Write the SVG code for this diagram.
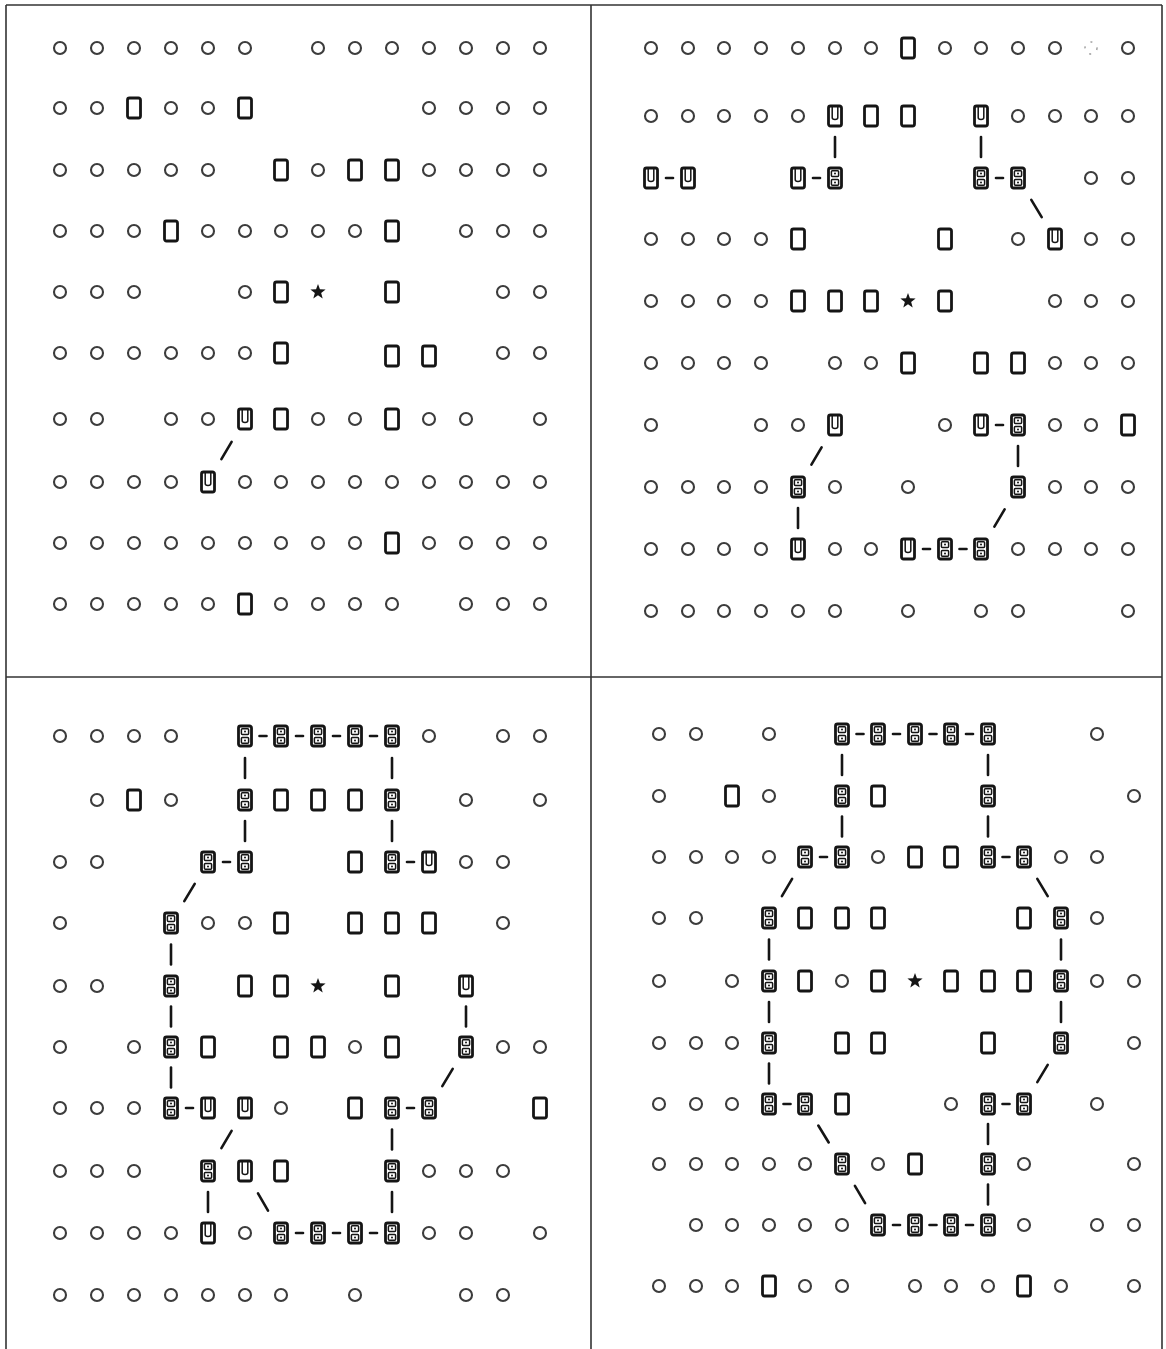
<svg xmlns="http://www.w3.org/2000/svg" xmlns:xlink="http://www.w3.org/1999/xlink" width="1166" height="1349" viewBox="0 0 1166 1349">
<style>
.o{fill:none;stroke:#3c3c3c;stroke-width:2.1}
.fa{fill:none;stroke:#9a9a9a;stroke-width:1.4;stroke-dasharray:2 7}
.k{fill:#fff;stroke:#151515;stroke-width:2.8}
.i{fill:none;stroke:#151515;stroke-width:1.5}
.f{fill:#151515}
.e line{stroke:#151515;stroke-width:2.6;stroke-linecap:round}
.fr line{stroke:#333;stroke-width:1.6}
</style>
<defs>
<circle id="o" r="6" class="o"/>
<circle id="fo" r="6" class="fa"/>
<g id="r"><rect x="-6.5" y="-10" width="13" height="20" rx="2" class="k"/></g>
<g id="u"><rect x="-6.5" y="-10" width="13" height="20" rx="2" class="k"/><path d="M-2.8,-9V1.5Q-2.8,3.5 0,3.5Q2.8,3.5 2.8,1.5V-9" class="i"/></g>
<g id="b"><rect x="-6.5" y="-10" width="13" height="20" rx="2" class="k"/><rect x="-3.6" y="-7.2" width="7.2" height="5.6" rx="1" class="i"/><rect x="-3.6" y="1.6" width="7.2" height="5.6" rx="1" class="i"/><circle cx="0" cy="-4.4" r="1" class="f"/><circle cx="0" cy="4.4" r="1" class="f"/></g>
<polygon id="s" class="f" points="0,-8 1.94,-2.68 7.61,-2.47 3.15,1.03 4.7,6.47 0,3.3 -4.7,6.47 -3.15,1.03 -7.61,-2.47 -1.94,-2.68"/>
</defs>
<rect width="1166" height="1349" fill="#fff"/>
<g id="frame" class="fr">
<line x1="6" y1="5" x2="1162" y2="5"/>
<line x1="6" y1="5" x2="6" y2="1349"/>
<line x1="1162" y1="5" x2="1162" y2="1349"/>
<line x1="591" y1="5" x2="591" y2="1349"/>
<line x1="6" y1="677" x2="1162" y2="677"/>
</g>
<g id="connectors" class="e">
<line x1="231.6" y1="441.9" x2="221.4" y2="459.1"/>
<line x1="835" y1="137" x2="835" y2="157"/>
<line x1="981" y1="137" x2="981" y2="157"/>
<line x1="666" y1="178" x2="673" y2="178"/>
<line x1="813" y1="178" x2="820" y2="178"/>
<line x1="996" y1="178" x2="1003" y2="178"/>
<line x1="1031.3" y1="199.9" x2="1041.7" y2="217.1"/>
<line x1="821.6" y1="447.4" x2="811.4" y2="464.6"/>
<line x1="996" y1="425" x2="1003" y2="425"/>
<line x1="1018" y1="446" x2="1018" y2="466"/>
<line x1="798" y1="508" x2="798" y2="528"/>
<line x1="1004.6" y1="509.4" x2="994.4" y2="526.6"/>
<line x1="923" y1="549" x2="930" y2="549"/>
<line x1="959.5" y1="549" x2="966.5" y2="549"/>
<line x1="259.5" y1="736" x2="266.5" y2="736"/>
<line x1="296" y1="736" x2="303" y2="736"/>
<line x1="333" y1="736" x2="340" y2="736"/>
<line x1="370" y1="736" x2="377" y2="736"/>
<line x1="245" y1="758" x2="245" y2="778"/>
<line x1="392" y1="758" x2="392" y2="778"/>
<line x1="245" y1="821" x2="245" y2="841"/>
<line x1="392" y1="821" x2="392" y2="841"/>
<line x1="223" y1="862" x2="230" y2="862"/>
<line x1="407" y1="862" x2="414" y2="862"/>
<line x1="194.7" y1="883.9" x2="184.3" y2="901.1"/>
<line x1="171" y1="944.5" x2="171" y2="964.5"/>
<line x1="171" y1="1006.5" x2="171" y2="1026.5"/>
<line x1="171" y1="1067.5" x2="171" y2="1087.5"/>
<line x1="466" y1="1006.5" x2="466" y2="1026.5"/>
<line x1="452.7" y1="1068.9" x2="442.3" y2="1086.1"/>
<line x1="186" y1="1108" x2="193" y2="1108"/>
<line x1="407" y1="1108" x2="414" y2="1108"/>
<line x1="231.6" y1="1130.9" x2="221.4" y2="1148.1"/>
<line x1="392" y1="1129.5" x2="392" y2="1149.5"/>
<line x1="208" y1="1192" x2="208" y2="1212"/>
<line x1="258" y1="1193.4" x2="268" y2="1210.6"/>
<line x1="392" y1="1192" x2="392" y2="1212"/>
<line x1="296" y1="1233" x2="303" y2="1233"/>
<line x1="333" y1="1233" x2="340" y2="1233"/>
<line x1="370" y1="1233" x2="377" y2="1233"/>
<line x1="856.5" y1="734" x2="863.5" y2="734"/>
<line x1="893" y1="734" x2="900" y2="734"/>
<line x1="929.5" y1="734" x2="936.5" y2="734"/>
<line x1="966" y1="734" x2="973" y2="734"/>
<line x1="842" y1="755" x2="842" y2="775"/>
<line x1="988" y1="755" x2="988" y2="775"/>
<line x1="842" y1="816.5" x2="842" y2="836.5"/>
<line x1="988" y1="816.5" x2="988" y2="836.5"/>
<line x1="820" y1="857" x2="827" y2="857"/>
<line x1="1002.5" y1="857" x2="1009.5" y2="857"/>
<line x1="792.1" y1="878.9" x2="781.9" y2="896.1"/>
<line x1="1037.3" y1="878.9" x2="1047.7" y2="896.1"/>
<line x1="769" y1="939.5" x2="769" y2="959.5"/>
<line x1="769" y1="1002" x2="769" y2="1022"/>
<line x1="769" y1="1063.5" x2="769" y2="1083.5"/>
<line x1="1061" y1="939.5" x2="1061" y2="959.5"/>
<line x1="1061" y1="1002" x2="1061" y2="1022"/>
<line x1="1047.7" y1="1064.9" x2="1037.3" y2="1082.1"/>
<line x1="783.5" y1="1104" x2="790.5" y2="1104"/>
<line x1="1002.5" y1="1104" x2="1009.5" y2="1104"/>
<line x1="818.3" y1="1125.5" x2="828.7" y2="1142.5"/>
<line x1="988" y1="1124" x2="988" y2="1144"/>
<line x1="854.9" y1="1185.9" x2="865.1" y2="1203.1"/>
<line x1="988" y1="1184.5" x2="988" y2="1204.5"/>
<line x1="893" y1="1225" x2="900" y2="1225"/>
<line x1="929.5" y1="1225" x2="936.5" y2="1225"/>
<line x1="966" y1="1225" x2="973" y2="1225"/>
</g>
<g id="panel1">
<g id="p1-0-0"><use href="#o" x="60" y="48"/></g>
<g id="p1-0-1"><use href="#o" x="97" y="48"/></g>
<g id="p1-0-2"><use href="#o" x="134" y="48"/></g>
<g id="p1-0-3"><use href="#o" x="171" y="48"/></g>
<g id="p1-0-4"><use href="#o" x="208" y="48"/></g>
<g id="p1-0-5"><use href="#o" x="245" y="48"/></g>
<g id="p1-0-7"><use href="#o" x="318" y="48"/></g>
<g id="p1-0-8"><use href="#o" x="355" y="48"/></g>
<g id="p1-0-9"><use href="#o" x="392" y="48"/></g>
<g id="p1-0-10"><use href="#o" x="429" y="48"/></g>
<g id="p1-0-11"><use href="#o" x="466" y="48"/></g>
<g id="p1-0-12"><use href="#o" x="503" y="48"/></g>
<g id="p1-0-13"><use href="#o" x="540" y="48"/></g>
<g id="p1-1-0"><use href="#o" x="60" y="108"/></g>
<g id="p1-1-1"><use href="#o" x="97" y="108"/></g>
<g id="p1-1-2"><use href="#r" x="134" y="108"/></g>
<g id="p1-1-3"><use href="#o" x="171" y="108"/></g>
<g id="p1-1-4"><use href="#o" x="208" y="108"/></g>
<g id="p1-1-5"><use href="#r" x="245" y="108"/></g>
<g id="p1-1-10"><use href="#o" x="429" y="108"/></g>
<g id="p1-1-11"><use href="#o" x="466" y="108"/></g>
<g id="p1-1-12"><use href="#o" x="503" y="108"/></g>
<g id="p1-1-13"><use href="#o" x="540" y="108"/></g>
<g id="p1-2-0"><use href="#o" x="60" y="170"/></g>
<g id="p1-2-1"><use href="#o" x="97" y="170"/></g>
<g id="p1-2-2"><use href="#o" x="134" y="170"/></g>
<g id="p1-2-3"><use href="#o" x="171" y="170"/></g>
<g id="p1-2-4"><use href="#o" x="208" y="170"/></g>
<g id="p1-2-6"><use href="#r" x="281" y="170"/></g>
<g id="p1-2-7"><use href="#o" x="318" y="170"/></g>
<g id="p1-2-8"><use href="#r" x="355" y="170"/></g>
<g id="p1-2-9"><use href="#r" x="392" y="170"/></g>
<g id="p1-2-10"><use href="#o" x="429" y="170"/></g>
<g id="p1-2-11"><use href="#o" x="466" y="170"/></g>
<g id="p1-2-12"><use href="#o" x="503" y="170"/></g>
<g id="p1-2-13"><use href="#o" x="540" y="170"/></g>
<g id="p1-3-0"><use href="#o" x="60" y="231"/></g>
<g id="p1-3-1"><use href="#o" x="97" y="231"/></g>
<g id="p1-3-2"><use href="#o" x="134" y="231"/></g>
<g id="p1-3-3"><use href="#r" x="171" y="231"/></g>
<g id="p1-3-4"><use href="#o" x="208" y="231"/></g>
<g id="p1-3-5"><use href="#o" x="245" y="231"/></g>
<g id="p1-3-6"><use href="#o" x="281" y="231"/></g>
<g id="p1-3-7"><use href="#o" x="318" y="231"/></g>
<g id="p1-3-8"><use href="#o" x="355" y="231"/></g>
<g id="p1-3-9"><use href="#r" x="392" y="231"/></g>
<g id="p1-3-11"><use href="#o" x="466" y="231"/></g>
<g id="p1-3-12"><use href="#o" x="503" y="231"/></g>
<g id="p1-3-13"><use href="#o" x="540" y="231"/></g>
<g id="p1-4-0"><use href="#o" x="60" y="292"/></g>
<g id="p1-4-1"><use href="#o" x="97" y="292"/></g>
<g id="p1-4-2"><use href="#o" x="134" y="292"/></g>
<g id="p1-4-5"><use href="#o" x="245" y="292"/></g>
<g id="p1-4-6"><use href="#r" x="281" y="292"/></g>
<g id="p1-4-7"><use href="#s" x="318" y="292"/></g>
<g id="p1-4-9"><use href="#r" x="392" y="292"/></g>
<g id="p1-4-12"><use href="#o" x="503" y="292"/></g>
<g id="p1-4-13"><use href="#o" x="540" y="292"/></g>
<g id="p1-5-0"><use href="#o" x="60" y="353"/></g>
<g id="p1-5-1"><use href="#o" x="97" y="353"/></g>
<g id="p1-5-2"><use href="#o" x="134" y="353"/></g>
<g id="p1-5-3"><use href="#o" x="171" y="353"/></g>
<g id="p1-5-4"><use href="#o" x="208" y="353"/></g>
<g id="p1-5-5"><use href="#o" x="245" y="353"/></g>
<g id="p1-5-6"><use href="#r" x="281" y="353"/></g>
<g id="p1-5-9"><use href="#r" x="392" y="356"/></g>
<g id="p1-5-10"><use href="#r" x="429" y="356"/></g>
<g id="p1-5-12"><use href="#o" x="503" y="353"/></g>
<g id="p1-5-13"><use href="#o" x="540" y="353"/></g>
<g id="p1-6-0"><use href="#o" x="60" y="419"/></g>
<g id="p1-6-1"><use href="#o" x="97" y="419"/></g>
<g id="p1-6-3"><use href="#o" x="171" y="419"/></g>
<g id="p1-6-4"><use href="#o" x="208" y="419"/></g>
<g id="p1-6-5"><use href="#u" x="245" y="419"/></g>
<g id="p1-6-6"><use href="#r" x="281" y="419"/></g>
<g id="p1-6-7"><use href="#o" x="318" y="419"/></g>
<g id="p1-6-8"><use href="#o" x="355" y="419"/></g>
<g id="p1-6-9"><use href="#r" x="392" y="419"/></g>
<g id="p1-6-10"><use href="#o" x="429" y="419"/></g>
<g id="p1-6-11"><use href="#o" x="466" y="419"/></g>
<g id="p1-6-13"><use href="#o" x="540" y="419"/></g>
<g id="p1-7-0"><use href="#o" x="60" y="482"/></g>
<g id="p1-7-1"><use href="#o" x="97" y="482"/></g>
<g id="p1-7-2"><use href="#o" x="134" y="482"/></g>
<g id="p1-7-3"><use href="#o" x="171" y="482"/></g>
<g id="p1-7-4"><use href="#u" x="208" y="482"/></g>
<g id="p1-7-5"><use href="#o" x="245" y="482"/></g>
<g id="p1-7-6"><use href="#o" x="281" y="482"/></g>
<g id="p1-7-7"><use href="#o" x="318" y="482"/></g>
<g id="p1-7-8"><use href="#o" x="355" y="482"/></g>
<g id="p1-7-9"><use href="#o" x="392" y="482"/></g>
<g id="p1-7-10"><use href="#o" x="429" y="482"/></g>
<g id="p1-7-11"><use href="#o" x="466" y="482"/></g>
<g id="p1-7-12"><use href="#o" x="503" y="482"/></g>
<g id="p1-7-13"><use href="#o" x="540" y="482"/></g>
<g id="p1-8-0"><use href="#o" x="60" y="543"/></g>
<g id="p1-8-1"><use href="#o" x="97" y="543"/></g>
<g id="p1-8-2"><use href="#o" x="134" y="543"/></g>
<g id="p1-8-3"><use href="#o" x="171" y="543"/></g>
<g id="p1-8-4"><use href="#o" x="208" y="543"/></g>
<g id="p1-8-5"><use href="#o" x="245" y="543"/></g>
<g id="p1-8-6"><use href="#o" x="281" y="543"/></g>
<g id="p1-8-7"><use href="#o" x="318" y="543"/></g>
<g id="p1-8-8"><use href="#o" x="355" y="543"/></g>
<g id="p1-8-9"><use href="#r" x="392" y="543"/></g>
<g id="p1-8-10"><use href="#o" x="429" y="543"/></g>
<g id="p1-8-11"><use href="#o" x="466" y="543"/></g>
<g id="p1-8-12"><use href="#o" x="503" y="543"/></g>
<g id="p1-8-13"><use href="#o" x="540" y="543"/></g>
<g id="p1-9-0"><use href="#o" x="60" y="604"/></g>
<g id="p1-9-1"><use href="#o" x="97" y="604"/></g>
<g id="p1-9-2"><use href="#o" x="134" y="604"/></g>
<g id="p1-9-3"><use href="#o" x="171" y="604"/></g>
<g id="p1-9-4"><use href="#o" x="208" y="604"/></g>
<g id="p1-9-5"><use href="#r" x="245" y="604"/></g>
<g id="p1-9-6"><use href="#o" x="281" y="604"/></g>
<g id="p1-9-7"><use href="#o" x="318" y="604"/></g>
<g id="p1-9-8"><use href="#o" x="355" y="604"/></g>
<g id="p1-9-9"><use href="#o" x="392" y="604"/></g>
<g id="p1-9-11"><use href="#o" x="466" y="604"/></g>
<g id="p1-9-12"><use href="#o" x="503" y="604"/></g>
<g id="p1-9-13"><use href="#o" x="540" y="604"/></g>
</g>
<g id="panel2">
<g id="p2-0-0"><use href="#o" x="651" y="48"/></g>
<g id="p2-0-1"><use href="#o" x="688" y="48"/></g>
<g id="p2-0-2"><use href="#o" x="724" y="48"/></g>
<g id="p2-0-3"><use href="#o" x="761" y="48"/></g>
<g id="p2-0-4"><use href="#o" x="798" y="48"/></g>
<g id="p2-0-5"><use href="#o" x="835" y="48"/></g>
<g id="p2-0-6"><use href="#o" x="871" y="48"/></g>
<g id="p2-0-7"><use href="#r" x="908" y="48"/></g>
<g id="p2-0-8"><use href="#o" x="945" y="48"/></g>
<g id="p2-0-9"><use href="#o" x="981" y="48"/></g>
<g id="p2-0-10"><use href="#o" x="1018" y="48"/></g>
<g id="p2-0-11"><use href="#o" x="1055" y="48"/></g>
<g id="p2-0-12"><use href="#fo" x="1091" y="48"/></g>
<g id="p2-0-13"><use href="#o" x="1128" y="48"/></g>
<g id="p2-1-0"><use href="#o" x="651" y="116"/></g>
<g id="p2-1-1"><use href="#o" x="688" y="116"/></g>
<g id="p2-1-2"><use href="#o" x="724" y="116"/></g>
<g id="p2-1-3"><use href="#o" x="761" y="116"/></g>
<g id="p2-1-4"><use href="#o" x="798" y="116"/></g>
<g id="p2-1-5"><use href="#u" x="835" y="116"/></g>
<g id="p2-1-6"><use href="#r" x="871" y="116"/></g>
<g id="p2-1-7"><use href="#r" x="908" y="116"/></g>
<g id="p2-1-9"><use href="#u" x="981" y="116"/></g>
<g id="p2-1-10"><use href="#o" x="1018" y="116"/></g>
<g id="p2-1-11"><use href="#o" x="1055" y="116"/></g>
<g id="p2-1-12"><use href="#o" x="1091" y="116"/></g>
<g id="p2-1-13"><use href="#o" x="1128" y="116"/></g>
<g id="p2-2-0"><use href="#u" x="651" y="178"/></g>
<g id="p2-2-1"><use href="#u" x="688" y="178"/></g>
<g id="p2-2-4"><use href="#u" x="798" y="178"/></g>
<g id="p2-2-5"><use href="#b" x="835" y="178"/></g>
<g id="p2-2-9"><use href="#b" x="981" y="178"/></g>
<g id="p2-2-10"><use href="#b" x="1018" y="178"/></g>
<g id="p2-2-12"><use href="#o" x="1091" y="178"/></g>
<g id="p2-2-13"><use href="#o" x="1128" y="178"/></g>
<g id="p2-3-0"><use href="#o" x="651" y="239"/></g>
<g id="p2-3-1"><use href="#o" x="688" y="239"/></g>
<g id="p2-3-2"><use href="#o" x="724" y="239"/></g>
<g id="p2-3-3"><use href="#o" x="761" y="239"/></g>
<g id="p2-3-4"><use href="#r" x="798" y="239"/></g>
<g id="p2-3-8"><use href="#r" x="945" y="239"/></g>
<g id="p2-3-10"><use href="#o" x="1018" y="239"/></g>
<g id="p2-3-11"><use href="#u" x="1055" y="239"/></g>
<g id="p2-3-12"><use href="#o" x="1091" y="239"/></g>
<g id="p2-3-13"><use href="#o" x="1128" y="239"/></g>
<g id="p2-4-0"><use href="#o" x="651" y="301"/></g>
<g id="p2-4-1"><use href="#o" x="688" y="301"/></g>
<g id="p2-4-2"><use href="#o" x="724" y="301"/></g>
<g id="p2-4-3"><use href="#o" x="761" y="301"/></g>
<g id="p2-4-4"><use href="#r" x="798" y="301"/></g>
<g id="p2-4-5"><use href="#r" x="835" y="301"/></g>
<g id="p2-4-6"><use href="#r" x="871" y="301"/></g>
<g id="p2-4-7"><use href="#s" x="908" y="301"/></g>
<g id="p2-4-8"><use href="#r" x="945" y="301"/></g>
<g id="p2-4-11"><use href="#o" x="1055" y="301"/></g>
<g id="p2-4-12"><use href="#o" x="1091" y="301"/></g>
<g id="p2-4-13"><use href="#o" x="1128" y="301"/></g>
<g id="p2-5-0"><use href="#o" x="651" y="363"/></g>
<g id="p2-5-1"><use href="#o" x="688" y="363"/></g>
<g id="p2-5-2"><use href="#o" x="724" y="363"/></g>
<g id="p2-5-3"><use href="#o" x="761" y="363"/></g>
<g id="p2-5-5"><use href="#o" x="835" y="363"/></g>
<g id="p2-5-6"><use href="#o" x="871" y="363"/></g>
<g id="p2-5-7"><use href="#r" x="908" y="363"/></g>
<g id="p2-5-9"><use href="#r" x="981" y="363"/></g>
<g id="p2-5-10"><use href="#r" x="1018" y="363"/></g>
<g id="p2-5-11"><use href="#o" x="1055" y="363"/></g>
<g id="p2-5-12"><use href="#o" x="1091" y="363"/></g>
<g id="p2-5-13"><use href="#o" x="1128" y="363"/></g>
<g id="p2-6-0"><use href="#o" x="651" y="425"/></g>
<g id="p2-6-3"><use href="#o" x="761" y="425"/></g>
<g id="p2-6-4"><use href="#o" x="798" y="425"/></g>
<g id="p2-6-5"><use href="#u" x="835" y="425"/></g>
<g id="p2-6-8"><use href="#o" x="945" y="425"/></g>
<g id="p2-6-9"><use href="#u" x="981" y="425"/></g>
<g id="p2-6-10"><use href="#b" x="1018" y="425"/></g>
<g id="p2-6-11"><use href="#o" x="1055" y="425"/></g>
<g id="p2-6-12"><use href="#o" x="1091" y="425"/></g>
<g id="p2-6-13"><use href="#r" x="1128" y="425"/></g>
<g id="p2-7-0"><use href="#o" x="651" y="487"/></g>
<g id="p2-7-1"><use href="#o" x="688" y="487"/></g>
<g id="p2-7-2"><use href="#o" x="724" y="487"/></g>
<g id="p2-7-3"><use href="#o" x="761" y="487"/></g>
<g id="p2-7-4"><use href="#b" x="798" y="487"/></g>
<g id="p2-7-5"><use href="#o" x="835" y="487"/></g>
<g id="p2-7-7"><use href="#o" x="908" y="487"/></g>
<g id="p2-7-10"><use href="#b" x="1018" y="487"/></g>
<g id="p2-7-11"><use href="#o" x="1055" y="487"/></g>
<g id="p2-7-12"><use href="#o" x="1091" y="487"/></g>
<g id="p2-7-13"><use href="#o" x="1128" y="487"/></g>
<g id="p2-8-0"><use href="#o" x="651" y="549"/></g>
<g id="p2-8-1"><use href="#o" x="688" y="549"/></g>
<g id="p2-8-2"><use href="#o" x="724" y="549"/></g>
<g id="p2-8-3"><use href="#o" x="761" y="549"/></g>
<g id="p2-8-4"><use href="#u" x="798" y="549"/></g>
<g id="p2-8-5"><use href="#o" x="835" y="549"/></g>
<g id="p2-8-6"><use href="#o" x="871" y="549"/></g>
<g id="p2-8-7"><use href="#u" x="908" y="549"/></g>
<g id="p2-8-8"><use href="#b" x="945" y="549"/></g>
<g id="p2-8-9"><use href="#b" x="981" y="549"/></g>
<g id="p2-8-10"><use href="#o" x="1018" y="549"/></g>
<g id="p2-8-11"><use href="#o" x="1055" y="549"/></g>
<g id="p2-8-12"><use href="#o" x="1091" y="549"/></g>
<g id="p2-8-13"><use href="#o" x="1128" y="549"/></g>
<g id="p2-9-0"><use href="#o" x="651" y="611"/></g>
<g id="p2-9-1"><use href="#o" x="688" y="611"/></g>
<g id="p2-9-2"><use href="#o" x="724" y="611"/></g>
<g id="p2-9-3"><use href="#o" x="761" y="611"/></g>
<g id="p2-9-4"><use href="#o" x="798" y="611"/></g>
<g id="p2-9-5"><use href="#o" x="835" y="611"/></g>
<g id="p2-9-7"><use href="#o" x="908" y="611"/></g>
<g id="p2-9-9"><use href="#o" x="981" y="611"/></g>
<g id="p2-9-10"><use href="#o" x="1018" y="611"/></g>
<g id="p2-9-13"><use href="#o" x="1128" y="611"/></g>
</g>
<g id="panel3">
<g id="p3-0-0"><use href="#o" x="60" y="736"/></g>
<g id="p3-0-1"><use href="#o" x="97" y="736"/></g>
<g id="p3-0-2"><use href="#o" x="134" y="736"/></g>
<g id="p3-0-3"><use href="#o" x="171" y="736"/></g>
<g id="p3-0-5"><use href="#b" x="245" y="736"/></g>
<g id="p3-0-6"><use href="#b" x="281" y="736"/></g>
<g id="p3-0-7"><use href="#b" x="318" y="736"/></g>
<g id="p3-0-8"><use href="#b" x="355" y="736"/></g>
<g id="p3-0-9"><use href="#b" x="392" y="736"/></g>
<g id="p3-0-10"><use href="#o" x="429" y="736"/></g>
<g id="p3-0-12"><use href="#o" x="503" y="736"/></g>
<g id="p3-0-13"><use href="#o" x="540" y="736"/></g>
<g id="p3-1-1"><use href="#o" x="97" y="800"/></g>
<g id="p3-1-2"><use href="#r" x="134" y="800"/></g>
<g id="p3-1-3"><use href="#o" x="171" y="800"/></g>
<g id="p3-1-5"><use href="#b" x="245" y="800"/></g>
<g id="p3-1-6"><use href="#r" x="281" y="800"/></g>
<g id="p3-1-7"><use href="#r" x="318" y="800"/></g>
<g id="p3-1-8"><use href="#r" x="355" y="800"/></g>
<g id="p3-1-9"><use href="#b" x="392" y="800"/></g>
<g id="p3-1-11"><use href="#o" x="466" y="800"/></g>
<g id="p3-1-13"><use href="#o" x="540" y="800"/></g>
<g id="p3-2-0"><use href="#o" x="60" y="862"/></g>
<g id="p3-2-1"><use href="#o" x="97" y="862"/></g>
<g id="p3-2-4"><use href="#b" x="208" y="862"/></g>
<g id="p3-2-5"><use href="#b" x="245" y="862"/></g>
<g id="p3-2-8"><use href="#r" x="355" y="862"/></g>
<g id="p3-2-9"><use href="#b" x="392" y="862"/></g>
<g id="p3-2-10"><use href="#u" x="429" y="862"/></g>
<g id="p3-2-11"><use href="#o" x="466" y="862"/></g>
<g id="p3-2-12"><use href="#o" x="503" y="862"/></g>
<g id="p3-3-0"><use href="#o" x="60" y="923"/></g>
<g id="p3-3-3"><use href="#b" x="171" y="923"/></g>
<g id="p3-3-4"><use href="#o" x="208" y="923"/></g>
<g id="p3-3-5"><use href="#o" x="245" y="923"/></g>
<g id="p3-3-6"><use href="#r" x="281" y="923"/></g>
<g id="p3-3-8"><use href="#r" x="355" y="923"/></g>
<g id="p3-3-9"><use href="#r" x="392" y="923"/></g>
<g id="p3-3-10"><use href="#r" x="429" y="923"/></g>
<g id="p3-3-12"><use href="#o" x="503" y="923"/></g>
<g id="p3-4-0"><use href="#o" x="60" y="986"/></g>
<g id="p3-4-1"><use href="#o" x="97" y="986"/></g>
<g id="p3-4-3"><use href="#b" x="171" y="986"/></g>
<g id="p3-4-5"><use href="#r" x="245" y="986"/></g>
<g id="p3-4-6"><use href="#r" x="281" y="986"/></g>
<g id="p3-4-7"><use href="#s" x="318" y="986"/></g>
<g id="p3-4-9"><use href="#r" x="392" y="986"/></g>
<g id="p3-4-11"><use href="#u" x="466" y="986"/></g>
<g id="p3-5-0"><use href="#o" x="60" y="1047"/></g>
<g id="p3-5-2"><use href="#o" x="134" y="1047"/></g>
<g id="p3-5-3"><use href="#b" x="171" y="1047"/></g>
<g id="p3-5-4"><use href="#r" x="208" y="1047"/></g>
<g id="p3-5-6"><use href="#r" x="281" y="1047"/></g>
<g id="p3-5-7"><use href="#r" x="318" y="1047"/></g>
<g id="p3-5-8"><use href="#o" x="355" y="1047"/></g>
<g id="p3-5-9"><use href="#r" x="392" y="1047"/></g>
<g id="p3-5-11"><use href="#b" x="466" y="1047"/></g>
<g id="p3-5-12"><use href="#o" x="503" y="1047"/></g>
<g id="p3-5-13"><use href="#o" x="540" y="1047"/></g>
<g id="p3-6-0"><use href="#o" x="60" y="1108"/></g>
<g id="p3-6-1"><use href="#o" x="97" y="1108"/></g>
<g id="p3-6-2"><use href="#o" x="134" y="1108"/></g>
<g id="p3-6-3"><use href="#b" x="171" y="1108"/></g>
<g id="p3-6-4"><use href="#u" x="208" y="1108"/></g>
<g id="p3-6-5"><use href="#u" x="245" y="1108"/></g>
<g id="p3-6-6"><use href="#o" x="281" y="1108"/></g>
<g id="p3-6-8"><use href="#r" x="355" y="1108"/></g>
<g id="p3-6-9"><use href="#b" x="392" y="1108"/></g>
<g id="p3-6-10"><use href="#b" x="429" y="1108"/></g>
<g id="p3-6-13"><use href="#r" x="540" y="1108"/></g>
<g id="p3-7-0"><use href="#o" x="60" y="1171"/></g>
<g id="p3-7-1"><use href="#o" x="97" y="1171"/></g>
<g id="p3-7-2"><use href="#o" x="134" y="1171"/></g>
<g id="p3-7-4"><use href="#b" x="208" y="1171"/></g>
<g id="p3-7-5"><use href="#u" x="245" y="1171"/></g>
<g id="p3-7-6"><use href="#r" x="281" y="1171"/></g>
<g id="p3-7-9"><use href="#b" x="392" y="1171"/></g>
<g id="p3-7-10"><use href="#o" x="429" y="1171"/></g>
<g id="p3-7-11"><use href="#o" x="466" y="1171"/></g>
<g id="p3-7-12"><use href="#o" x="503" y="1171"/></g>
<g id="p3-8-0"><use href="#o" x="60" y="1233"/></g>
<g id="p3-8-1"><use href="#o" x="97" y="1233"/></g>
<g id="p3-8-2"><use href="#o" x="134" y="1233"/></g>
<g id="p3-8-3"><use href="#o" x="171" y="1233"/></g>
<g id="p3-8-4"><use href="#u" x="208" y="1233"/></g>
<g id="p3-8-5"><use href="#o" x="245" y="1233"/></g>
<g id="p3-8-6"><use href="#b" x="281" y="1233"/></g>
<g id="p3-8-7"><use href="#b" x="318" y="1233"/></g>
<g id="p3-8-8"><use href="#b" x="355" y="1233"/></g>
<g id="p3-8-9"><use href="#b" x="392" y="1233"/></g>
<g id="p3-8-10"><use href="#o" x="429" y="1233"/></g>
<g id="p3-8-11"><use href="#o" x="466" y="1233"/></g>
<g id="p3-8-13"><use href="#o" x="540" y="1233"/></g>
<g id="p3-9-0"><use href="#o" x="60" y="1295"/></g>
<g id="p3-9-1"><use href="#o" x="97" y="1295"/></g>
<g id="p3-9-2"><use href="#o" x="134" y="1295"/></g>
<g id="p3-9-3"><use href="#o" x="171" y="1295"/></g>
<g id="p3-9-4"><use href="#o" x="208" y="1295"/></g>
<g id="p3-9-5"><use href="#o" x="245" y="1295"/></g>
<g id="p3-9-6"><use href="#o" x="281" y="1295"/></g>
<g id="p3-9-8"><use href="#o" x="355" y="1295"/></g>
<g id="p3-9-11"><use href="#o" x="466" y="1295"/></g>
<g id="p3-9-12"><use href="#o" x="503" y="1295"/></g>
</g>
<g id="panel4">
<g id="p4-0-0"><use href="#o" x="659" y="734"/></g>
<g id="p4-0-1"><use href="#o" x="696" y="734"/></g>
<g id="p4-0-3"><use href="#o" x="769" y="734"/></g>
<g id="p4-0-5"><use href="#b" x="842" y="734"/></g>
<g id="p4-0-6"><use href="#b" x="878" y="734"/></g>
<g id="p4-0-7"><use href="#b" x="915" y="734"/></g>
<g id="p4-0-8"><use href="#b" x="951" y="734"/></g>
<g id="p4-0-9"><use href="#b" x="988" y="734"/></g>
<g id="p4-0-12"><use href="#o" x="1097" y="734"/></g>
<g id="p4-1-0"><use href="#o" x="659" y="796"/></g>
<g id="p4-1-2"><use href="#r" x="732" y="796"/></g>
<g id="p4-1-3"><use href="#o" x="769" y="796"/></g>
<g id="p4-1-5"><use href="#b" x="842" y="796"/></g>
<g id="p4-1-6"><use href="#r" x="878" y="796"/></g>
<g id="p4-1-9"><use href="#b" x="988" y="796"/></g>
<g id="p4-1-13"><use href="#o" x="1134" y="796"/></g>
<g id="p4-2-0"><use href="#o" x="659" y="857"/></g>
<g id="p4-2-1"><use href="#o" x="696" y="857"/></g>
<g id="p4-2-2"><use href="#o" x="732" y="857"/></g>
<g id="p4-2-3"><use href="#o" x="769" y="857"/></g>
<g id="p4-2-4"><use href="#b" x="805" y="857"/></g>
<g id="p4-2-5"><use href="#b" x="842" y="857"/></g>
<g id="p4-2-6"><use href="#o" x="878" y="857"/></g>
<g id="p4-2-7"><use href="#r" x="915" y="857"/></g>
<g id="p4-2-8"><use href="#r" x="951" y="857"/></g>
<g id="p4-2-9"><use href="#b" x="988" y="857"/></g>
<g id="p4-2-10"><use href="#b" x="1024" y="857"/></g>
<g id="p4-2-11"><use href="#o" x="1061" y="857"/></g>
<g id="p4-2-12"><use href="#o" x="1097" y="857"/></g>
<g id="p4-3-0"><use href="#o" x="659" y="918"/></g>
<g id="p4-3-1"><use href="#o" x="696" y="918"/></g>
<g id="p4-3-3"><use href="#b" x="769" y="918"/></g>
<g id="p4-3-4"><use href="#r" x="805" y="918"/></g>
<g id="p4-3-5"><use href="#r" x="842" y="918"/></g>
<g id="p4-3-6"><use href="#r" x="878" y="918"/></g>
<g id="p4-3-10"><use href="#r" x="1024" y="918"/></g>
<g id="p4-3-11"><use href="#b" x="1061" y="918"/></g>
<g id="p4-3-12"><use href="#o" x="1097" y="918"/></g>
<g id="p4-4-0"><use href="#o" x="659" y="981"/></g>
<g id="p4-4-2"><use href="#o" x="732" y="981"/></g>
<g id="p4-4-3"><use href="#b" x="769" y="981"/></g>
<g id="p4-4-4"><use href="#r" x="805" y="981"/></g>
<g id="p4-4-5"><use href="#o" x="842" y="981"/></g>
<g id="p4-4-6"><use href="#r" x="878" y="981"/></g>
<g id="p4-4-7"><use href="#s" x="915" y="981"/></g>
<g id="p4-4-8"><use href="#r" x="951" y="981"/></g>
<g id="p4-4-9"><use href="#r" x="988" y="981"/></g>
<g id="p4-4-10"><use href="#r" x="1024" y="981"/></g>
<g id="p4-4-11"><use href="#b" x="1061" y="981"/></g>
<g id="p4-4-12"><use href="#o" x="1097" y="981"/></g>
<g id="p4-4-13"><use href="#o" x="1134" y="981"/></g>
<g id="p4-5-0"><use href="#o" x="659" y="1043"/></g>
<g id="p4-5-1"><use href="#o" x="696" y="1043"/></g>
<g id="p4-5-2"><use href="#o" x="732" y="1043"/></g>
<g id="p4-5-3"><use href="#b" x="769" y="1043"/></g>
<g id="p4-5-5"><use href="#r" x="842" y="1043"/></g>
<g id="p4-5-6"><use href="#r" x="878" y="1043"/></g>
<g id="p4-5-9"><use href="#r" x="988" y="1043"/></g>
<g id="p4-5-11"><use href="#b" x="1061" y="1043"/></g>
<g id="p4-5-13"><use href="#o" x="1134" y="1043"/></g>
<g id="p4-6-0"><use href="#o" x="659" y="1104"/></g>
<g id="p4-6-1"><use href="#o" x="696" y="1104"/></g>
<g id="p4-6-2"><use href="#o" x="732" y="1104"/></g>
<g id="p4-6-3"><use href="#b" x="769" y="1104"/></g>
<g id="p4-6-4"><use href="#b" x="805" y="1104"/></g>
<g id="p4-6-5"><use href="#r" x="842" y="1104"/></g>
<g id="p4-6-8"><use href="#o" x="951" y="1104"/></g>
<g id="p4-6-9"><use href="#b" x="988" y="1104"/></g>
<g id="p4-6-10"><use href="#b" x="1024" y="1104"/></g>
<g id="p4-6-12"><use href="#o" x="1097" y="1104"/></g>
<g id="p4-7-0"><use href="#o" x="659" y="1164"/></g>
<g id="p4-7-1"><use href="#o" x="696" y="1164"/></g>
<g id="p4-7-2"><use href="#o" x="732" y="1164"/></g>
<g id="p4-7-3"><use href="#o" x="769" y="1164"/></g>
<g id="p4-7-4"><use href="#o" x="805" y="1164"/></g>
<g id="p4-7-5"><use href="#b" x="842" y="1164"/></g>
<g id="p4-7-6"><use href="#o" x="878" y="1164"/></g>
<g id="p4-7-7"><use href="#r" x="915" y="1164"/></g>
<g id="p4-7-9"><use href="#b" x="988" y="1164"/></g>
<g id="p4-7-10"><use href="#o" x="1024" y="1164"/></g>
<g id="p4-7-13"><use href="#o" x="1134" y="1164"/></g>
<g id="p4-8-1"><use href="#o" x="696" y="1225"/></g>
<g id="p4-8-2"><use href="#o" x="732" y="1225"/></g>
<g id="p4-8-3"><use href="#o" x="769" y="1225"/></g>
<g id="p4-8-4"><use href="#o" x="805" y="1225"/></g>
<g id="p4-8-5"><use href="#o" x="842" y="1225"/></g>
<g id="p4-8-6"><use href="#b" x="878" y="1225"/></g>
<g id="p4-8-7"><use href="#b" x="915" y="1225"/></g>
<g id="p4-8-8"><use href="#b" x="951" y="1225"/></g>
<g id="p4-8-9"><use href="#b" x="988" y="1225"/></g>
<g id="p4-8-10"><use href="#o" x="1024" y="1225"/></g>
<g id="p4-8-12"><use href="#o" x="1097" y="1225"/></g>
<g id="p4-8-13"><use href="#o" x="1134" y="1225"/></g>
<g id="p4-9-0"><use href="#o" x="659" y="1286"/></g>
<g id="p4-9-1"><use href="#o" x="696" y="1286"/></g>
<g id="p4-9-2"><use href="#o" x="732" y="1286"/></g>
<g id="p4-9-3"><use href="#r" x="769" y="1286"/></g>
<g id="p4-9-4"><use href="#o" x="805" y="1286"/></g>
<g id="p4-9-5"><use href="#o" x="842" y="1286"/></g>
<g id="p4-9-7"><use href="#o" x="915" y="1286"/></g>
<g id="p4-9-8"><use href="#o" x="951" y="1286"/></g>
<g id="p4-9-9"><use href="#o" x="988" y="1286"/></g>
<g id="p4-9-10"><use href="#r" x="1024" y="1286"/></g>
<g id="p4-9-11"><use href="#o" x="1061" y="1286"/></g>
<g id="p4-9-13"><use href="#o" x="1134" y="1286"/></g>
</g>
</svg>
